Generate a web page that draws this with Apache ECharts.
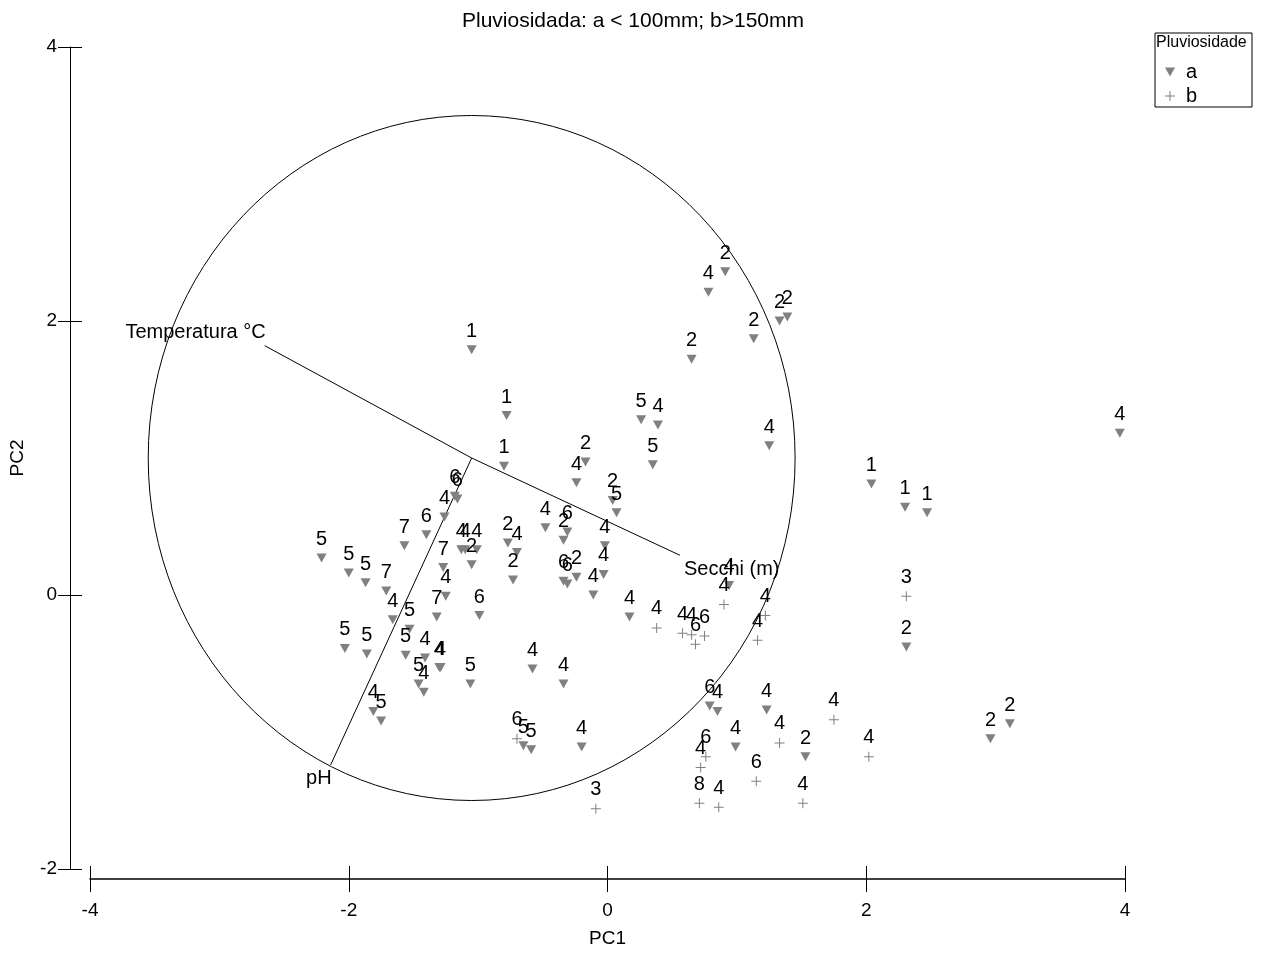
<!DOCTYPE html>
<html><head><meta charset="utf-8">
<script src="https://cdn.jsdelivr.net/npm/echarts/dist/echarts.min.js"></script>
<style>html,body{margin:0;padding:0;background:#fff}#c{width:1266px;height:953px}</style>
</head><body><div id="c"></div>
<script>
const titleText = 'Pluviosidada: a < 100mm; b>150mm';
const legendTitle = 'Pluviosidade';
const groupNames = ['a', 'b'];
// [PC1, PC2, label]  — group a (triangles)
const groupA = [
  [-1.05,1.79,'1'],[-0.78,1.31,'1'],[-0.80,0.94,'1'],[0.91,2.36,'2'],[0.78,2.21,'4'],
  [1.33,2.00,'2'],[1.39,2.03,'2'],[1.13,1.87,'2'],[0.65,1.72,'2'],[0.26,1.28,'5'],
  [0.39,1.24,'4'],[0.35,0.95,'5'],[1.25,1.09,'4'],[-0.17,0.97,'2'],[-0.24,0.82,'4'],
  [0.04,0.69,'2'],[0.07,0.60,'5'],[-0.48,0.49,'4'],[-0.31,0.46,'6'],[-0.34,0.40,'2'],
  [-0.02,0.36,'4'],[-0.77,0.38,'2'],[-0.70,0.31,'4'],[-0.73,0.11,'2'],[-0.34,0.10,'6'],
  [-0.31,0.08,'6'],[-0.24,0.13,'2'],[-0.03,0.15,'4'],[-0.11,0.00,'4'],[0.17,-0.16,'4'],
  [-1.18,0.72,'6'],[-1.16,0.70,'6'],[-1.26,0.57,'4'],[-1.40,0.44,'6'],[-1.57,0.36,'7'],
  [-2.21,0.27,'5'],[-2.00,0.16,'5'],[-1.87,0.09,'5'],[-1.71,0.03,'7'],[-1.66,-0.18,'4'],
  [-1.53,-0.25,'5'],[-2.03,-0.39,'5'],[-1.86,-0.43,'5'],[-1.56,-0.44,'5'],[-1.41,-0.46,'4'],
  [-1.30,-0.53,'4'],[-1.29,-0.53,'4'],[-1.46,-0.65,'5'],[-1.42,-0.71,'4'],[-1.06,-0.65,'5'],
  [-1.81,-0.85,'4'],[-1.75,-0.92,'5'],[-1.32,-0.16,'7'],[-0.99,-0.15,'6'],[-1.13,0.33,'4'],
  [-1.10,0.33,'4'],[-1.01,0.33,'4'],[-1.05,0.22,'2'],[-1.27,0.20,'7'],[-1.25,-0.01,'4'],
  [-0.58,-0.54,'4'],[-0.34,-0.65,'4'],[-0.65,-1.10,'5'],[-0.59,-1.13,'5'],[-0.20,-1.11,'4'],
  [0.79,-0.81,'6'],[0.85,-0.85,'4'],[1.23,-0.84,'4'],[0.99,-1.11,'4'],[1.53,-1.18,'2'],
  [0.94,0.07,'4'],[2.04,0.81,'1'],[2.30,0.64,'1'],[2.47,0.60,'1'],[2.31,-0.38,'2'],
  [3.96,1.18,'4'],[2.96,-1.05,'2'],[3.11,-0.94,'2']
];
// group b (plus signs)
const groupB = [
  [-0.70,-1.05,'6'],[-0.09,-1.56,'3'],[0.76,-1.18,'6'],[0.72,-1.26,'4'],[0.71,-1.52,'8'],
  [0.86,-1.55,'4'],[1.15,-1.36,'6'],[1.33,-1.08,'4'],[1.75,-0.91,'4'],[2.02,-1.18,'4'],
  [1.51,-1.52,'4'],[0.38,-0.24,'4'],[0.58,-0.28,'4'],[0.65,-0.29,'4'],[0.75,-0.30,'6'],
  [0.68,-0.36,'6'],[0.90,-0.07,'4'],[1.22,-0.15,'4'],[1.16,-0.33,'4'],[2.31,-0.01,'3']
];
const biplotCenter = [-1.05, 1.0];
const circleRadius = 2.5;
const vectorNames = ['Temperatura °C', 'Secchi (m)', 'pH'];
const vectorEnds = [[-2.65, 1.82], [0.56, 0.29], [-2.14, -1.24]];

const triPath = 'path://M0,0L10,0L5,9Z';
const plusPath = 'path://M0,4.5H10V5.5H0Z M4.5,0H5.5V10H4.5Z';
const reg = "'Liberation Sans', Arial, sans-serif";
const grey = '#808080';

const chart = echarts.init(document.getElementById('c'));
const pointLabel = {show:true, position:'top', distance:4, color:'#000', opacity:1, fontSize:20, fontFamily:reg,
  formatter: p => p.value[2]};
const baseX = {type:'value', min:-4, max:4, interval:2, position:'bottom', offset:10, splitLine:{show:false}};
const baseY = {type:'value', min:-2, max:4, interval:2, position:'left', offset:20, splitLine:{show:false}};
chart.setOption({
  animation:false,
  backgroundColor:'#fff',
  title:{text:titleText, left:'center', top:6, textStyle:{fontSize:21, fontWeight:'normal', color:'#000', fontFamily:reg}},
  grid:{left:90, right:141, top:47, bottom:80},
  xAxis:[
    Object.assign({}, baseX, {name:'PC1', nameLocation:'middle', nameGap:50,
      nameTextStyle:{fontSize:19, color:'#000', fontFamily:reg},
      axisLine:{onZero:false, lineStyle:{color:'#000', width:1.5}},
      axisTick:{length:13, lineStyle:{color:'#000'}},
      axisLabel:{margin:22, fontSize:19, color:'#000', fontFamily:reg}}),
    Object.assign({}, baseX, {axisLine:{show:false, onZero:false}, axisLabel:{show:false},
      axisTick:{inside:true, length:13, lineStyle:{color:'#000'}}})
  ],
  yAxis:[
    Object.assign({}, baseY, {name:'PC2', nameLocation:'middle', nameGap:43, nameRotate:90,
      nameTextStyle:{fontSize:19, color:'#000', fontFamily:reg},
      axisLine:{onZero:false, lineStyle:{color:'#000', width:1}},
      axisTick:{length:12, lineStyle:{color:'#000'}},
      axisLabel:{margin:13, fontSize:19, color:'#000', fontFamily:reg}}),
    Object.assign({}, baseY, {axisLine:{show:false, onZero:false}, axisLabel:{show:false},
      axisTick:{inside:true, length:12, lineStyle:{color:'#000'}}})
  ],
  legend:{orient:'vertical', left:1160, top:57, itemWidth:10, itemHeight:10, itemGap:4,
    selectedMode:false,
    textStyle:{fontSize:20, color:'#000', fontFamily:reg, padding:[0,0,0,6]},
    data:[{name:groupNames[0], icon:triPath}, {name:groupNames[1], icon:plusPath}]},
  graphic:[
    {type:'rect', shape:{x:1155, y:33, width:97, height:74}, style:{fill:'none', stroke:'#000', lineWidth:1}},
    {type:'text', x:1156, y:35, style:{text:legendTitle, fill:'#000', font:"16px " + reg}}
  ],
  series:[
    {type:'custom', coordinateSystem:'cartesian2d', silent:true, clip:false, z:1,
      data:[[biplotCenter[0], biplotCenter[1], circleRadius]],
      renderItem:function(params, api){
        const c = api.coord([api.value(0), api.value(1)]);
        const s = api.size([api.value(2), api.value(2)]);
        return {type:'ellipse', shape:{cx:c[0], cy:c[1], rx:s[0], ry:s[1]},
          style:{fill:'none', stroke:'#000', lineWidth:1}};
      }},
    {type:'custom', coordinateSystem:'cartesian2d', silent:true, clip:false, z:1,
      data:vectorEnds.map((e,i)=>[e[0], e[1], i]),
      renderItem:function(params, api){
        const o = api.coord(biplotCenter);
        const e = api.coord([api.value(0), api.value(1)]);
        const name = vectorNames[api.value(2)];
        const toLeft = e[0] < o[0];
        const up = e[1] < o[1];
        return {type:'group', children:[
          {type:'line', shape:{x1:o[0], y1:o[1], x2:e[0], y2:e[1]}, style:{stroke:'#000', lineWidth:1}},
          {type:'text', style:{text:name, x:e[0] + (toLeft ? 1 : 4), y:e[1] + (up ? -3 : 4),
            align: toLeft ? 'right' : 'left', verticalAlign: up ? 'bottom' : 'top',
            fill:'#000', font:'20px ' + reg}}
        ]};
      }},
    {name:groupNames[0], type:'scatter', symbol:triPath, symbolSize:[10,9], z:3,
      itemStyle:{color:grey, opacity:1}, label:pointLabel, data:groupA},
    {name:groupNames[1], type:'scatter', symbol:plusPath, symbolSize:10, z:3,
      itemStyle:{color:grey, opacity:1}, label:pointLabel, data:groupB}
  ]
});
</script>
</body></html>
